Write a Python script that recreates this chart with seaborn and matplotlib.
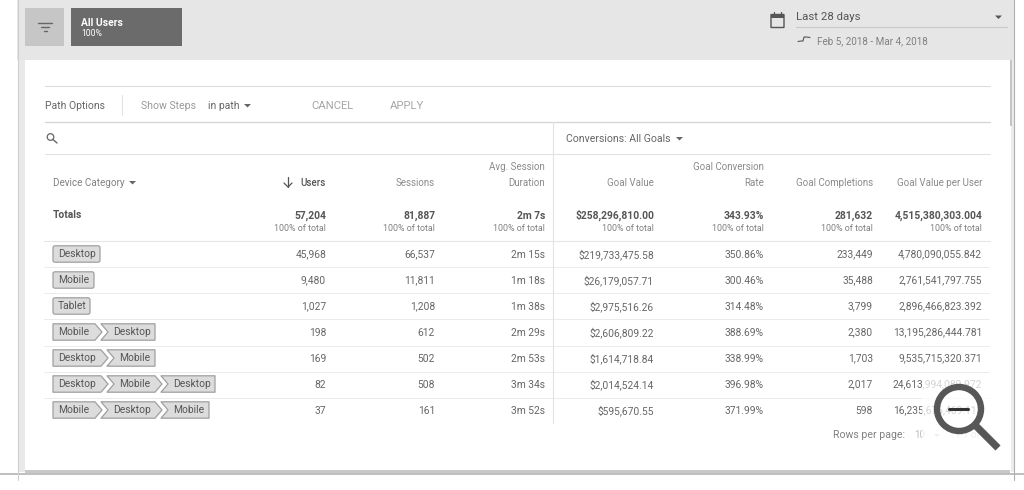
import numpy as np
import seaborn as sns
import matplotlib.pyplot as plt
from matplotlib.patches import Rectangle, Polygon, FancyBboxPatch, Circle

sns.set_theme(style='white')
plt.rcParams['font.family'] = ['Roboto', 'DejaVu Sans']

# table contents
paths = [['Desktop'], ['Mobile'], ['Tablet'], ['Mobile', 'Desktop'], ['Desktop', 'Mobile'],
         ['Desktop', 'Mobile', 'Desktop'], ['Mobile', 'Desktop', 'Mobile']]
users = ['45,968', '9,480', '1,027', '198', '169', '82', '37']
sessions = ['66,537', '11,811', '1,208', '612', '502', '508', '161']
duration = ['2m 15s', '1m 18s', '1m 38s', '2m 29s', '2m 53s', '3m 34s', '3m 52s']
goal_value = ['$219,733,475.58', '$26,179,057.71', '$2,975,516.26', '$2,606,809.22',
              '$1,614,718.84', '$2,014,524.14', '$595,670.55']
conv_rate = ['350.86%', '300.46%', '314.48%', '388.69%', '338.99%', '396.98%', '371.99%']
completions = ['233,449', '35,488', '3,799', '2,380', '1,703', '2,017', '598']
value_per_user = ['4,780,090,055.842', '2,761,541,797.755', '2,896,466,823.392', '13,195,286,444.781',
                  '9,535,715,320.371', '24,613,994,089.972', '16,235,676,469.113']
totals = ['57,204', '81,887', '2m 7s', '$258,296,810.00', '343.93%', '281,632', '4,515,380,303.004']
headers = [('', 'Users'), ('', 'Sessions'), ('Avg. Session', 'Duration'), ('', 'Goal Value'),
           ('Goal Conversion', 'Rate'), ('', 'Goal Completions'), ('', 'Goal Value per User')]
columns = [users, sessions, duration, goal_value, conv_rate, completions, value_per_user]

col_right = [326, 435, 545, 654, 764, 873, 982]
FS = 7.0
NUM = 7.4
TXT = '#666666'
LINE = '#e2e2e2'
CHIP = '#dcdcdc'
CHIP_EDGE = '#a0a0a0'

fig = plt.figure(figsize=(10.24, 4.9), dpi=100, facecolor='white')

# table rows, the side edges of the cells are clipped off
body = fig.add_axes([44 / 1024, 1 - 424 / 490, 946 / 1024, 183 / 490], zorder=1)
sns.heatmap(np.zeros((len(paths), 1)), cmap=['white'], cbar=False, linewidths=0.7, linecolor='#ebebeb',
            xticklabels=False, yticklabels=False, ax=body)
body.set_xlim(0.02, 0.98)

ax = fig.add_axes([0, 0, 1, 1], zorder=2)
ax.set_xlim(0, 1024)
ax.set_ylim(490, 0)
ax.axis('off')

# page frame
ax.add_patch(Rectangle((17, 0), 997, 60, color='#e6e6e6', lw=0))
ax.add_patch(Rectangle((18, 60), 7, 412, color='#e9e9e9', lw=0))
ax.add_patch(Rectangle((1011, 60), 3, 412, color='#ececec', lw=0))
ax.add_patch(Rectangle((1010, 60), 1.5, 66, color='#c4c4c4', lw=0))
ax.add_patch(Rectangle((25, 470), 985, 3, color='#c8c8c8', lw=0))
ax.plot([0, 1024], [474, 474], color='#b4b4b4', lw=1.2)
ax.plot([17.5, 17.5], [0, 480], color='#cfcfcf', lw=0.8)
ax.plot([1014, 1014], [0, 480], color='#b0b0b0', lw=0.8)

# top bar
ax.add_patch(Rectangle((25, 8), 39, 38, color='#c6c6c6', lw=0))
ax.plot([38, 52], [23, 23], color='#666666', lw=1)
ax.plot([41, 49], [27, 27], color='#666666', lw=1)
ax.plot([43.5, 46.5], [31, 31], color='#666666', lw=1)
ax.add_patch(Rectangle((71, 8), 111, 38, color='#6b6b6b', lw=0))
ax.text(81, 22.5, 'All Users', color='white', fontsize=7.4, fontweight='bold', va='center')
ax.text(81, 33.5, '100%', color='white', fontsize=6.2, va='center')

ax.add_patch(FancyBboxPatch((771.5, 15), 12, 12, boxstyle='round,pad=0.5', fc='#e6e6e6', ec='#555555', lw=1))
ax.add_patch(Rectangle((771, 14), 13, 4, color='#555555', lw=0))
ax.plot([774, 774], [12.5, 15], color='#555555', lw=0.9)
ax.plot([781, 781], [12.5, 15], color='#555555', lw=0.9)
ax.text(796, 17.5, 'Last 28 days', color='#555555', fontsize=8.2, va='center')
ax.plot([796, 1007], [27, 27], color='#c8c8c8', lw=0.8)
ax.add_patch(Polygon([[995, 15.5], [1002, 15.5], [998.5, 19]], color='#555555', lw=0))
ax.plot([798, 801, 803, 804, 806, 810], [41.5, 41, 41, 37, 37, 37.5], color='#555555', lw=0.8)
ax.text(817, 41, 'Feb 5, 2018 - Mar 4, 2018', color='#808080', fontsize=7.1, va='center')

# path options row
ax.plot([45, 990], [86, 86], color='#dddddd', lw=0.8)
ax.plot([45, 990], [122, 122], color='#d4d4d4', lw=0.9)
ax.plot([45, 990], [154, 154], color=LINE, lw=0.8)
ax.plot([122, 122], [95, 115], color=LINE, lw=0.8)
ax.text(45, 105.5, 'Path Options', color=TXT, fontsize=7.5, va='center')
ax.text(141, 105.5, 'Show Steps', color='#999999', fontsize=7.6, va='center')
ax.text(208, 105.5, 'in path', color=TXT, fontsize=7.5, va='center')
ax.add_patch(Polygon([[244, 104], [251, 104], [247.5, 107.5]], color='#666666', lw=0))
ax.text(311, 105.5, 'CANCEL', color='#a6a6a6', fontsize=8.1, va='center')
ax.text(390, 105.5, 'APPLY', color='#a6a6a6', fontsize=8.1, va='center')

# search icon and conversions selector
ax.add_patch(Circle((50.5, 137), 3.3, fc='none', ec='#666666', lw=0.9))
ax.plot([53, 57], [139.5, 143], color='#666666', lw=1)
ax.plot([553, 553], [122, 423], color=LINE, lw=0.8)
ax.text(566, 138.5, 'Conversions: All Goals', color=TXT, fontsize=7.6, va='center')
ax.add_patch(Polygon([[676, 137], [683, 137], [679.5, 140.5]], color='#666666', lw=0))

# column headers
ax.text(53, 182.5, 'Device Category', color='#808080', fontsize=FS + 0.1, va='center')
ax.add_patch(Polygon([[129, 181], [136, 181], [132.5, 184.5]], color='#666666', lw=0))
ax.plot([288, 288], [177, 187], color='#555555', lw=0.9)
ax.plot([284, 288, 292], [183, 187, 183], color='#555555', lw=0.9)
for right, (top, bottom) in zip(col_right, headers):
    c = '#555555' if bottom == 'Users' else '#8a8a8a'
    ax.text(right, 182.5, bottom, color=c, fontsize=FS, ha='right', va='center',
            fontweight='medium' if bottom == 'Users' else 'normal')
    if top:
        ax.text(right, 166.5, top, color='#8a8a8a', fontsize=FS, ha='right', va='center')

# totals
ax.text(53, 215, 'Totals', color='#555555', fontsize=NUM, fontweight='bold', va='center')
for right, val in zip(col_right, totals):
    ax.text(right, 215.5, val, color='#555555', fontsize=NUM, fontweight='bold', ha='right', va='center')
    ax.text(right, 228.5, '100% of total', color='#808080', fontsize=6.4, ha='right', va='center')
ax.plot([45, 990], [240.5, 240.5], color='#e6e6e6', lw=0.8)


def draw_path(steps, yc):
    # chips are drawn left to right, each next one notched into the tip before it
    h = 8.2
    if len(steps) == 1:
        w = {'Desktop': 47, 'Mobile': 41, 'Tablet': 37}[steps[0]]
        ax.add_patch(FancyBboxPatch((55, yc - h + 2), w - 4, 2 * h - 4, boxstyle='round,pad=2',
                                    fc=CHIP, ec=CHIP_EDGE, lw=0.9))
        ax.text(58, yc, steps[0], color='#555555', fontsize=7.4, va='center')
        return
    x = 53
    for i, step in enumerate(steps):
        last = i == len(steps) - 1
        w = {'Desktop': 48, 'Mobile': 42}[step] + (0 if i == 0 else 6)
        tip = 0 if last else 7
        pts = [[x, yc - h], [x + w, yc - h], [x + w + tip, yc], [x + w, yc + h], [x, yc + h]]
        if i > 0:
            pts.append([x + 7, yc])
        ax.add_patch(Polygon(pts, fc=CHIP, ec=CHIP_EDGE, lw=0.9, joinstyle='round', zorder=3))
        ax.text(x + (5 if i == 0 else 12), yc, step, color='#555555', fontsize=7.4, va='center', zorder=4)
        x += w + 6


# body rows
for i in range(len(paths)):
    yc = 254 + 26 * i
    draw_path(paths[i], yc)
    for right, col in zip(col_right, columns):
        ax.text(right, yc + 0.5, col[i], color=TXT, fontsize=NUM, ha='right', va='center')

# footer
ax.text(833, 434.5, 'Rows per page:', color='#808080', fontsize=7.6, va='center')
ax.text(914, 435, '10', color='#bbbbbb', fontsize=FS, va='center')
ax.add_patch(Polygon([[934, 434], [940, 434], [937, 437]], color='#c4c4c4', lw=0))
ax.text(955, 435, '1-7 of 7', color='#c4c4c4', fontsize=FS, va='center')

# magnifier overlay fades what is under it
ax.add_patch(Rectangle((922, 378), 68, 68, color='white', alpha=0.72, lw=0, zorder=5))
ax.add_patch(Circle((959, 409), 22, fc='none', ec='#575757', lw=4.6, zorder=6))
ax.plot([976, 998], [426, 448], color='#575757', lw=5.2, solid_capstyle='butt', zorder=6)
ax.plot([949, 968], [408.5, 408.5], color='#333333', lw=2.2, zorder=6)

fig.savefig('out.png', dpi=100, facecolor='white')
